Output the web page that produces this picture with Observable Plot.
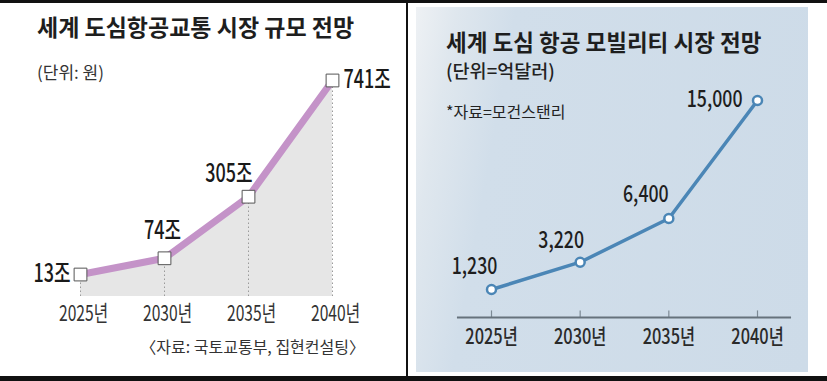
<!DOCTYPE html>
<html>
<head>
<meta charset="utf-8">
<script src="https://cdn.jsdelivr.net/npm/d3@7"></script>
<script src="https://cdn.jsdelivr.net/npm/@observablehq/plot@0.6"></script>
<style>
  html, body { margin: 0; padding: 0; background: #fff; }
  body { width: 827px; height: 381px; position: relative; overflow: hidden; font-family: "Noto Sans CJK KR", sans-serif; color: #222; }
  .abs { position: absolute; }
  .bar { background: #111; }
  .t { position: absolute; white-space: nowrap; line-height: 1; }
  #rightbg { left: 416px; top: 7px; width: 392px; height: 365px;
    background: linear-gradient(100deg, #eef1f4 0%, #dfe7ee 9%, #d1deea 22%, #cddbe8 100%); }
</style>
</head>
<body>
<div class="abs bar" style="left:0;top:0;width:827px;height:3px"></div>
<div class="abs bar" style="left:0;top:376px;width:827px;height:5px"></div>
<div class="abs bar" style="left:406px;top:0;width:2px;height:381px"></div>
<div id="rightbg" class="abs"></div>

<div class="t" style="left:37px;top:15px;font-size:23px;font-weight:700;color:#1e1e1e">세계 도심항공교통 시장 규모 전망</div>
<div class="t" style="left:37px;top:63px;font-size:17px;color:#333">(단위: 원)</div>
<div class="t" style="left:140px;top:338px;width:225px;text-align:right;font-size:16px;color:#333">〈자료: 국토교통부, 집현컨설팅〉</div>

<div class="t" style="left:446px;top:30px;font-size:22.5px;font-weight:700;color:#1e1e1e">세계 도심 항공 모빌리티 시장 전망</div>
<div class="t" style="left:446px;top:61px;font-size:18.5px;font-weight:500;color:#222">(단위=억달러)</div>
<div class="t" style="left:446px;top:103px;font-size:16px;color:#222">*자료=모건스탠리</div>

<div id="left" class="abs" style="left:0;top:0"></div>
<div id="right" class="abs" style="left:416px;top:0"></div>

<script>
// ---- data ----
const years = [2025, 2030, 2035, 2040];
const tickLabels = ["2025년", "2030년", "2035년", "2040년"];
// 세계 도심항공교통 시장 규모 (조 원)
const leftValues = [13, 74, 305, 741];
const leftLabels = ["13조", "74조", "305조", "741조"];
// 세계 도심 항공 모빌리티 시장 (억달러)
const rightValues = [1230, 3220, 6400, 15000];
const rightLabels = ["1,230", "3,220", "6,400", "15,000"];

const leftData = years.map((y, i) => ({year: y, v: leftValues[i], label: leftLabels[i], tick: tickLabels[i]}));
const rightData = years.map((y, i) => ({year: y, v: rightValues[i], label: rightLabels[i], tick: tickLabels[i]}));

const font = "'Noto Sans CJK KR', sans-serif";

// condense text horizontally (the original uses a narrow typeface)
function condense(svg, factors) {
  svg.querySelectorAll("text").forEach(t => {
    const fs = Math.round(parseFloat(getComputedStyle(t).fontSize) * 10) / 10;
    const f = factors[fs] ?? 1;
    const L = t.getComputedTextLength();
    if (L > 0 && f !== 1) {
      t.setAttribute("textLength", (L * f).toFixed(2));
      t.setAttribute("lengthAdjust", "spacingAndGlyphs");
    }
  });
}

// ---- left chart ----
const lMin = -69.4, lMax = 891;
const leftOffsets = [
  {anchor: "end", dx: -10, dy: -1},
  {anchor: "middle", dx: -2, dy: -27},
  {anchor: "end", dx: 4, dy: -23},
  {anchor: "start", dx: 11, dy: 0}
];
const leftLabelMarks = leftData.map((d, i) => Plot.text([d], {
  x: "year", y: "v", text: "label",
  textAnchor: leftOffsets[i].anchor, dx: leftOffsets[i].dx, dy: leftOffsets[i].dy,
  fontSize: 25, fontWeight: 500, fill: "#1a1a1a"
}));

const left = Plot.plot({
  width: 406, height: 381,
  marginLeft: 80, marginRight: 74, marginTop: 40, marginBottom: 85,
  x: {domain: [2025, 2040], axis: null},
  y: {domain: [lMin, lMax], axis: null},
  style: {background: "transparent", fontFamily: font, overflow: "visible"},
  marks: [
    Plot.areaY(leftData, {x: "year", y1: lMin, y2: "v", fill: "#e6e6e6"}),
    Plot.ruleX(leftData, {x: "year", y1: lMin, y2: "v", stroke: "#9a9a9a", strokeWidth: 1, strokeDasharray: "1.5,2.5"}),
    Plot.line(leftData, {x: "year", y: "v", stroke: "#c493c8", strokeWidth: 7, strokeLinejoin: "round"}),
    Plot.dot(leftData, {x: "year", y: "v", symbol: "square", r: 7.2, fill: "#fff", stroke: "#555", strokeWidth: 1}),
    ...leftLabelMarks,
    Plot.text(leftData, {x: "year", y: lMin, text: "tick", dy: 17, dx: 3, fontSize: 22, fill: "#333"})
  ]
});
document.getElementById("left").appendChild(left);
condense(left, {25: 0.72, 22: 0.71});

// ---- right chart ----
const rMin = -809, rMax = 17915;
const rightOffsets = [
  {anchor: "middle", dx: -17, dy: -23},
  {anchor: "middle", dx: -19, dy: -22},
  {anchor: "middle", dx: -23, dy: -24},
  {anchor: "end", dx: -15, dy: -1}
];
const rightLabelMarks = rightData.map((d, i) => Plot.text([d], {
  x: "year", y: "v", text: "label",
  textAnchor: rightOffsets[i].anchor, dx: rightOffsets[i].dx, dy: rightOffsets[i].dy,
  fontSize: 23, fontWeight: 500, fill: "#1e1e1e"
}));

const right = Plot.plot({
  width: 392, height: 381,
  marginLeft: 75, marginRight: 51, marginTop: 60, marginBottom: 64,
  x: {domain: [2025, 2040], axis: null},
  y: {domain: [rMin, rMax], axis: null},
  style: {background: "transparent", fontFamily: font, overflow: "visible"},
  marks: [
    Plot.ruleX(years, {x: d => d, y1: rMin, y2: -330, stroke: "#7d8a95", strokeWidth: 1.2}),
    Plot.ruleY([rMin], {x1: 2023.08, x2: 2041.92, stroke: "#66727c", strokeWidth: 2}),
    Plot.line(rightData, {x: "year", y: "v", stroke: "#4b86b6", strokeWidth: 3.5, strokeLinejoin: "round"}),
    Plot.dot(rightData, {x: "year", y: "v", r: 4.5, fill: "#fff", stroke: "#4b86b6", strokeWidth: 2.5}),
    ...rightLabelMarks,
    Plot.text(rightData, {x: "year", y: rMin, text: "tick", dy: 20, fontSize: 21, fontWeight: 500, fill: "#2a2a2a"})
  ]
});
document.getElementById("right").appendChild(right);
condense(right, {23: 0.77, 21: 0.78});
</script>
</body>
</html>
